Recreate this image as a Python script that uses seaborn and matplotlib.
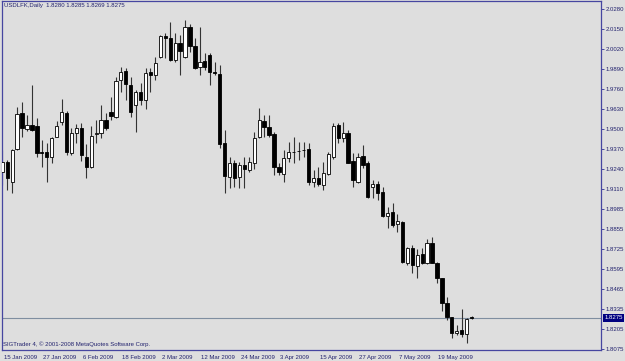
import matplotlib
matplotlib.use("Agg")
import matplotlib.pyplot as plt
import matplotlib.transforms as mtransforms
from matplotlib import font_manager
import seaborn as sns
import numpy as np
import pandas as pd

# ---------------- data ----------------
opens = [1.9224, 1.9289, 1.9159, 1.9372, 1.9608, 1.9500, 1.9528, 1.9522, 1.9353, 1.9351,
         1.9322, 1.9452, 1.9546, 1.9608, 1.9348, 1.9478, 1.9507, 1.9322, 1.9253, 1.9470,
         1.9474, 1.9561, 1.9611, 1.9582, 1.9821, 1.9881, 1.9788, 1.9658, 1.9744, 1.9690,
         1.9874, 1.9853, 1.9972, 2.0108, 2.0092, 1.9951, 2.0063, 1.9968, 2.0163, 2.0042,
         1.9903, 1.9944, 1.9983, 1.9873, 1.9860, 1.9413, 1.9192, 1.9279, 1.9188, 1.9268,
         1.9236, 1.9283, 1.9452, 1.9556, 1.9517, 1.9470, 1.9253, 1.9210, 1.9312, 1.9353,
         1.9359, 1.9364, 1.9370, 1.9159, 1.9182, 1.9138, 1.9210, 1.9318, 1.9528, 1.9442,
         1.9474, 1.9296, 1.9159, 1.9326, 1.9279, 1.9123, 1.9145, 1.9094, 1.8936, 1.8961,
         1.8885, 1.8899, 1.8633, 1.8727, 1.8612, 1.8690, 1.8633, 1.8763, 1.8633, 1.8532,
         1.8369, 1.8278, 1.8174, 1.8195, 1.8170, 1.8280]
highs = [1.9365, 1.9300, 1.9372, 1.9647, 1.9679, 1.9593, 1.9788, 1.9574, 1.9431, 1.9411,
         1.9452, 1.9554, 1.9695, 1.9619, 1.9509, 1.9535, 1.9541, 1.9405, 1.9522, 1.9561,
         1.9658, 1.9606, 1.9712, 1.9842, 1.9907, 1.9899, 1.9842, 1.9755, 1.9801, 1.9899,
         1.9899, 1.9970, 2.0113, 2.0124, 2.0199, 2.0126, 2.0113, 2.0211, 2.0185, 2.0094,
         2.0165, 1.9996, 1.9996, 1.9938, 1.9918, 1.9496, 1.9320, 1.9300, 1.9288, 1.9320,
         1.9320, 1.9483, 1.9639, 1.9593, 1.9593, 1.9483, 1.9281, 1.9365, 1.9418, 1.9450,
         1.9418, 1.9419, 1.9411, 1.9236, 1.9257, 1.9289, 1.9354, 1.9539, 1.9543, 1.9549,
         1.9496, 1.9346, 1.9348, 1.9398, 1.9296, 1.9170, 1.9166, 1.9127, 1.8997, 1.9023,
         1.8950, 1.8904, 1.8733, 1.8748, 1.8720, 1.8729, 1.8785, 1.8798, 1.8638, 1.8534,
         1.8410, 1.8282, 1.8228, 1.8330, 1.8271, 1.8285]
lows = [1.9138, 1.9105, 1.9086, 1.9365, 1.9452, 1.9489, 1.9489, 1.9320, 1.9255, 1.9158,
        1.9283, 1.9450, 1.9528, 1.9333, 1.9333, 1.9411, 1.9296, 1.9183, 1.9249, 1.9411,
        1.9444, 1.9496, 1.9561, 1.9574, 1.9744, 1.9690, 1.9582, 1.9484, 1.9658, 1.9632,
        1.9744, 1.9820, 1.9964, 1.9964, 1.9944, 1.9938, 1.9853, 1.9964, 2.0004, 1.9892,
        1.9853, 1.9886, 1.9788, 1.9853, 1.9379, 1.9088, 1.9119, 1.9125, 1.9119, 1.9119,
        1.9223, 1.9242, 1.9444, 1.9450, 1.9450, 1.9203, 1.9203, 1.9158, 1.9288, 1.9281,
        1.9300, 1.9320, 1.9138, 1.9127, 1.9132, 1.9105, 1.9203, 1.9305, 1.9413, 1.9419,
        1.9281, 1.9127, 1.9153, 1.9249, 1.9052, 1.9053, 1.9040, 1.8928, 1.8857, 1.8867,
        1.8834, 1.8629, 1.8618, 1.8564, 1.8532, 1.8625, 1.8625, 1.8629, 1.8499, 1.8319,
        1.8260, 1.8142, 1.8163, 1.8150, 1.8113, 1.8269]
closes = [1.9289, 1.9183, 1.9365, 1.9599, 1.9507, 1.9528, 1.9496, 1.9348, 1.9344, 1.9318,
          1.9445, 1.9522, 1.9611, 1.9354, 1.9474, 1.9507, 1.9333, 1.9257, 1.9457, 1.9474,
          1.9561, 1.9507, 1.9587, 1.9814, 1.9874, 1.9794, 1.9614, 1.9744, 1.9690, 1.9864,
          1.9853, 1.9929, 2.0107, 2.0095, 1.9951, 2.0063, 2.0011, 2.0163, 2.0042, 1.9897,
          1.9936, 1.9903, 1.9874, 1.9866, 1.9404, 1.9197, 1.9283, 1.9182, 1.9268, 1.9240,
          1.9289, 1.9442, 1.9561, 1.9517, 1.9463, 1.9257, 1.9224, 1.9312, 1.9354, 1.9354,
          1.9361, 1.9365, 1.9159, 1.9182, 1.9145, 1.9214, 1.9340, 1.9522, 1.9442, 1.9474,
          1.9283, 1.9170, 1.9318, 1.9268, 1.9058, 1.9145, 1.9084, 1.8936, 1.8954, 1.8878,
          1.8906, 1.8639, 1.8727, 1.8618, 1.8683, 1.8633, 1.8763, 1.8633, 1.8532, 1.8369,
          1.8278, 1.8178, 1.8191, 1.8170, 1.8265, 1.8275]

date_labels = ["15 Jan 2009", "27 Jan 2009", "6 Feb 2009", "18 Feb 2009", "2 Mar 2009",
               "12 Mar 2009", "24 Mar 2009", "3 Apr 2009", "15 Apr 2009", "27 Apr 2009",
               "7 May 2009", "19 May 2009"]
date_bar_index = [0, 8, 16, 24, 32, 40, 48, 56, 64, 72, 80, 88]
price_labels = ["2.0280", "2.0150", "2.0020", "1.9890", "1.9760", "1.9630", "1.9500",
                "1.9370", "1.9240", "1.9110", "1.8985", "1.8855", "1.8725", "1.8595",
                "1.8465", "1.8335", "1.8205", "1.8075"]
last_price = 1.8275
title_text = "USDLFK,Daily  1.8280 1.8285 1.8269 1.8275"
footer_text = "SIGTrader 4, \u00a9 2001-2008 MetaQuotes Software Corp."

# ---------------- style ----------------
BG = "#dedede"
AXC = "#4646a0"
TXT = "#22226e"

sns.set_theme(style="white", rc={"axes.facecolor": BG, "figure.facecolor": BG})
names = {f.name for f in font_manager.fontManager.ttflist}
FONT = "Liberation Sans Narrow" if "Liberation Sans Narrow" in names else "Liberation Sans"
FS = 5.1 if FONT == "Liberation Sans Narrow" else 4.35
plt.rcParams["font.family"] = [FONT, "DejaVu Sans"]

W, H = 625, 361
fig = plt.figure(figsize=(W / 100, H / 100), dpi=100, facecolor=BG)
ax = fig.add_axes([1.7 / W, 1 - 349.5 / H, 599.3 / W, 348.5 / H])
ax.set_facecolor(BG)

df = pd.DataFrame({"o": opens, "h": highs, "l": lows, "c": closes})
df["x"] = np.arange(len(df))
df["bottom"] = df[["o", "c"]].min(axis=1)
df["height"] = (df["c"] - df["o"]).abs().clip(lower=0.00015)
up = df["c"] >= df["o"]

ax.axhline(last_price, color="#7f8ea0", lw=0.8, zorder=1)
ax.vlines(df["x"], df["l"], df["h"], color="#333333", lw=0.8, zorder=2)
ax.bar(df.loc[up, "x"], df.loc[up, "height"], bottom=df.loc[up, "bottom"], width=0.66,
       color="white", edgecolor="black", linewidth=0.6, zorder=3)
ax.bar(df.loc[~up, "x"], df.loc[~up, "height"], bottom=df.loc[~up, "bottom"], width=0.66,
       color="black", edgecolor="black", linewidth=0.6, zorder=3)

ax.set_xlim(-0.12, 121.2)
ax.set_ylim(1.8069, 2.0334)

for s in ax.spines.values():
    s.set_visible(True)
    s.set_color(AXC)
    s.set_linewidth(0.9)

ax.yaxis.tick_right()
ax.set_yticks([float(v) for v in price_labels])
ax.set_yticklabels(price_labels)
ax.tick_params(axis="y", direction="out", length=2.2, width=0.7, color=AXC,
               labelsize=FS, labelcolor=TXT, pad=1.2)
ax.set_xticks(date_bar_index)
ax.set_xticklabels(date_labels, ha="left")
ax.tick_params(axis="x", direction="out", length=3.5, width=0.7, color=AXC,
               labelsize=FS, labelcolor=TXT, pad=0.2)
offset = mtransforms.ScaledTranslation(1.5 / 100, 0, fig.dpi_scale_trans)
for lab in ax.get_xticklabels():
    lab.set_transform(lab.get_transform() + offset)

trans = mtransforms.blended_transform_factory(ax.transAxes, ax.transData)
ax.text(1.006, last_price, "1.8275", transform=trans, ha="left", va="center",
        fontsize=FS, color="white",
        bbox=dict(boxstyle="square,pad=0.2", fc="#000080", ec="#000080", lw=0))

fig.text(4 / W, 1 - 6 / H, title_text, ha="left", va="center", fontsize=FS, color=TXT)
fig.text(3 / W, 1 - 344 / H, footer_text, ha="left", va="center", fontsize=FS, color=TXT)

fig.savefig("out.png", dpi=100, facecolor=BG)
